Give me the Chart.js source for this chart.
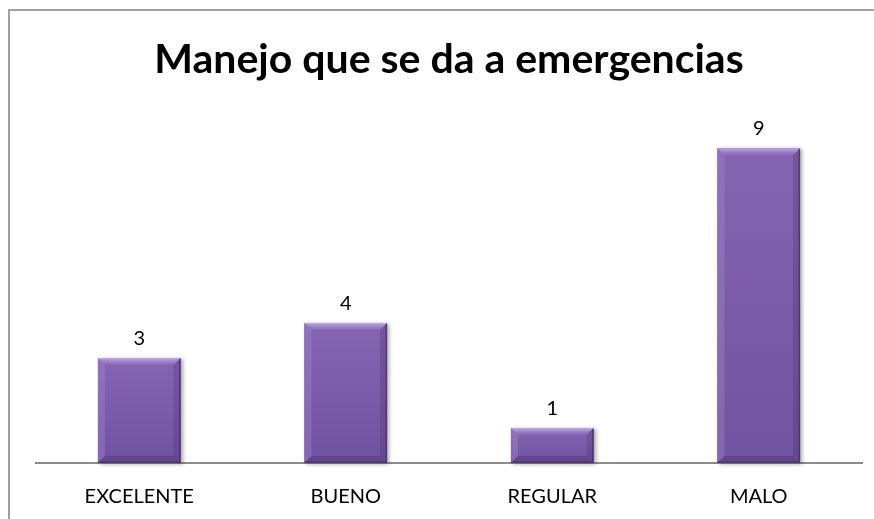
<!DOCTYPE html>
<html>
<head>
<meta charset="utf-8">
<script src="https://cdn.jsdelivr.net/npm/chart.js@4/dist/chart.umd.min.js"></script>
<style>
  html, body { margin: 0; padding: 0; background: #fff; overflow: hidden; }
  #wrap { position: relative; width: 874px; height: 519px; overflow: hidden; }
  #frame { position: absolute; left: 8px; top: 9px; width: 900px; height: 600px;
           border-top: 2px solid #a0a0a0; border-left: 2px solid #a0a0a0; }
  #chart { position: absolute; left: 0; top: 0; }
</style>
</head>
<body>
<div id="wrap"><div id="frame"></div><canvas id="chart" width="874" height="519"></canvas></div>
<script>
// chart data
const categories = ['EXCELENTE', 'BUENO', 'REGULAR', 'MALO'];
const values = [3, 4, 1, 9];
const chartTitle = 'Manejo que se da a emergencias';

// bevel shading on the bars + value labels
const bevelPlugin = {
    id: 'bevel',
    afterDatasetsDraw(chart) {
        const ctx = chart.ctx;
        const meta = chart.getDatasetMeta(0);
        ctx.save();
        meta.data.forEach((bar, i) => {
            const p = bar.getProps(['x', 'y', 'base', 'width'], true);
            const l = p.x - p.width / 2, r = p.x + p.width / 2;
            const t = p.y, b = p.base;
            const d = 7;

            // body with soft shadow
            ctx.save();
            ctx.shadowColor = 'rgba(0,0,0,0.35)';
            ctx.shadowBlur = 4;
            ctx.shadowOffsetX = 2;
            ctx.shadowOffsetY = 1;
            let body = ctx.createLinearGradient(0, t, 0, b);
            body.addColorStop(0, '#8565b2');
            body.addColorStop(1, '#7152a0');
            ctx.fillStyle = body;
            ctx.fillRect(l, t, p.width, b - t);
            ctx.restore();

            // top bevel
            let g = ctx.createLinearGradient(0, t, 0, t + d);
            g.addColorStop(0, 'rgba(200,180,235,0.9)');
            g.addColorStop(1, 'rgba(160,130,210,0.2)');
            ctx.fillStyle = g;
            ctx.beginPath();
            ctx.moveTo(l, t); ctx.lineTo(r, t); ctx.lineTo(r - d, t + d); ctx.lineTo(l + d, t + d);
            ctx.closePath(); ctx.fill();
            // left bevel
            ctx.fillStyle = 'rgba(165,140,210,0.35)';
            ctx.beginPath();
            ctx.moveTo(l, t); ctx.lineTo(l + d, t + d); ctx.lineTo(l + d, b - d); ctx.lineTo(l, b);
            ctx.closePath(); ctx.fill();
            // right bevel
            ctx.fillStyle = 'rgba(70,40,105,0.25)';
            ctx.beginPath();
            ctx.moveTo(r, t); ctx.lineTo(r - d, t + d); ctx.lineTo(r - d, b - d); ctx.lineTo(r, b);
            ctx.closePath(); ctx.fill();
            // bottom bevel
            ctx.fillStyle = 'rgba(60,35,95,0.3)';
            ctx.beginPath();
            ctx.moveTo(l, b); ctx.lineTo(l + d, b - d); ctx.lineTo(r - d, b - d); ctx.lineTo(r, b);
            ctx.closePath(); ctx.fill();
            // thin dark right/bottom edge
            ctx.strokeStyle = 'rgba(70,45,100,0.7)';
            ctx.lineWidth = 1.5;
            ctx.beginPath();
            ctx.moveTo(r - 0.75, t + 1);
            ctx.lineTo(r - 0.75, b - 0.75);
            ctx.lineTo(l, b - 0.75);
            ctx.stroke();

            // value label
            ctx.fillStyle = '#000';
            ctx.font = '20px Lato, "Open Sans", sans-serif';
            ctx.textAlign = 'center';
            ctx.textBaseline = 'alphabetic';
            ctx.fillText(String(values[i]), p.x, t - 13);
        });
        ctx.restore();
    }
};

const ctx = document.getElementById('chart').getContext('2d');
new Chart(ctx, {
    type: 'bar',
    data: {
        labels: categories,
        datasets: [{
            data: values,
            backgroundColor: '#8060ad',
            borderWidth: 0,
            categoryPercentage: 1.0,
            barPercentage: 0.4
        }]
    },
    options: {
        responsive: false,
        animation: false,
        layout: { padding: { left: 36, right: 12, top: 35, bottom: 0 } },
        plugins: {
            legend: { display: false },
            tooltip: { enabled: false },
            title: {
                display: true,
                text: chartTitle,
                color: '#000',
                font: { family: 'Lato, "Open Sans", sans-serif', size: 41, weight: 'bold' },
                padding: { top: 0, bottom: 29 }
            }
        },
        scales: {
            x: {
                grid: { display: false, drawTicks: false },
                border: { display: true, color: '#8c8c8c', width: 2 },
                ticks: {
                    color: '#000',
                    padding: 22,
                    font: { family: 'Lato, "Open Sans", sans-serif', size: 20 }
                },
                afterFit(scale) { scale.height = 56; }
            },
            y: {
                display: false,
                min: 0,
                max: 10
            }
        }
    },
    plugins: [bevelPlugin]
});
</script>
</body>
</html>
